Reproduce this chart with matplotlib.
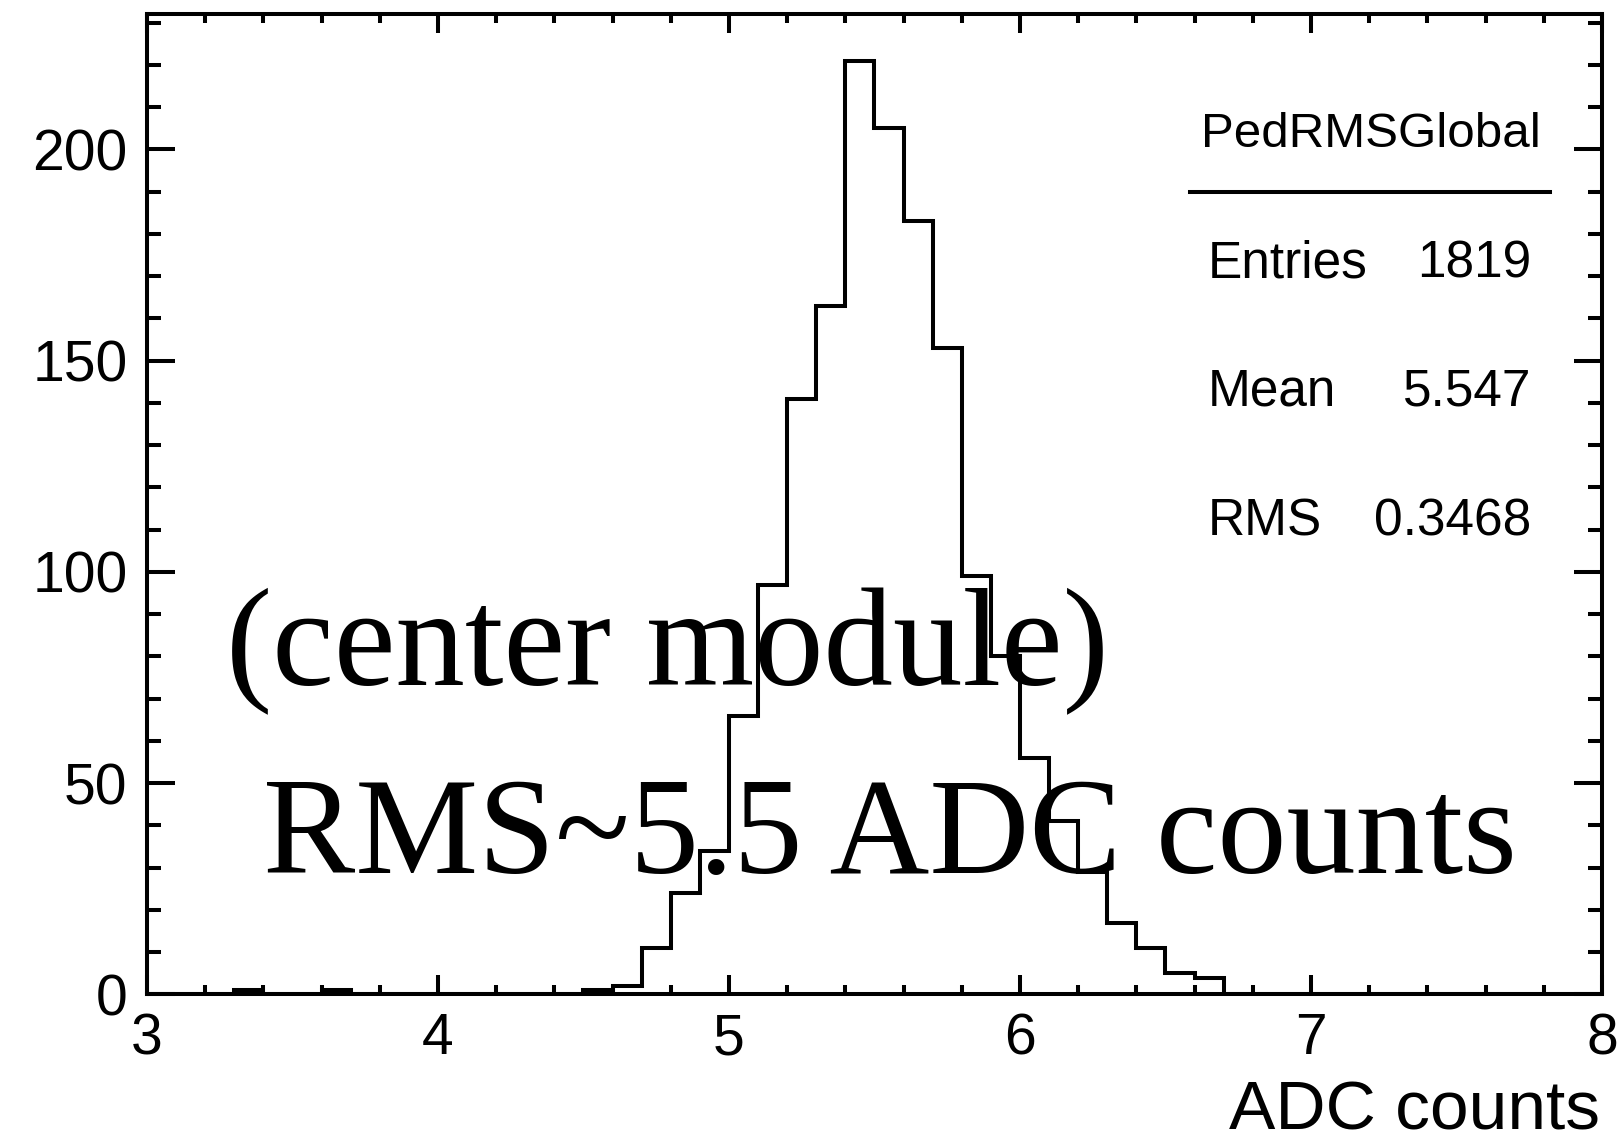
import numpy as np
import matplotlib
matplotlib.use("Agg")
import matplotlib.pyplot as plt
from matplotlib.ticker import MultipleLocator

# Pedestal RMS per channel, 0.1 ADC bins from 3 to 8
bin_lo = 3.0
bin_hi = 8.0
n_bins = 50
counts = [0, 0, 0, 1, 0, 0, 1, 0, 0, 0,
          0, 0, 0, 0, 0, 1, 2, 11, 24, 34,
          66, 97, 141, 163, 221, 205, 183, 153, 99, 80,
          56, 41, 29, 17, 11, 5, 4, 0, 0, 0,
          0, 0, 0, 0, 0, 0, 0, 0, 0, 0]

hist_name = "PedRMSGlobal"
stat_labels = ["Entries", "Mean", "RMS"]
stat_values = ["1819", "5.547", "0.3468"]
x_title = "ADC counts"
note_lines = ["(center module)", "RMS~5.5 ADC counts"]

W, H, DPI = 1624, 1141, 100
SANS = ["Liberation Sans", "DejaVu Sans"]
SERIF = ["Liberation Serif", "DejaVu Serif"]
plt.rcParams["font.family"] = SANS


def fpos(px, py):
    """Pixel position (from top-left) to figure fraction."""
    return px / W, 1 - py / H


fig = plt.figure(figsize=(W / DPI, H / DPI), dpi=DPI)
ax = fig.add_axes([147 / W, 1 - 994.4 / H, (1602 - 147) / W, (994.4 - 14) / H])

edges = np.linspace(bin_lo, bin_hi, n_bins + 1)
ax.stairs(counts, edges, color="black", linewidth=2.9, baseline=0)

ymax = max(counts) * 1.05
ax.set_xlim(bin_lo, bin_hi)
ax.set_ylim(0, ymax)

for s in ax.spines.values():
    s.set_linewidth(2.9)

ax.xaxis.set_major_locator(MultipleLocator(1))
ax.xaxis.set_minor_locator(MultipleLocator(0.2))
ax.yaxis.set_major_locator(MultipleLocator(50))
ax.yaxis.set_minor_locator(MultipleLocator(10))

ax.tick_params(axis="both", which="both", direction="in", width=2.9,
               top=True, right=True)
ax.tick_params(axis="x", which="major", length=13.5, pad=13, labelsize=41)
ax.tick_params(axis="x", which="minor", length=6.5)
ax.tick_params(axis="y", which="major", length=20.5, pad=14, labelsize=41)
ax.tick_params(axis="y", which="minor", length=10)

ax.set_xlabel(x_title, fontsize=50, ha="right", va="baseline")
ax.xaxis.set_label_coords((1600 - 147) / 1455, (994.4 - 1129) / 980.4)

# Large annotations in serif type
ax.text(3.27, 73.3, note_lines[0], family=SERIF, fontsize=100,
        ha="left", va="baseline", color="black")
ax.text(3.40, 28.8, note_lines[1], family=SERIF, fontsize=99.5,
        ha="left", va="baseline", color="black")

# Statistics panel
fig.text(*fpos(1371, 147), hist_name, fontsize=35.5, ha="center", va="baseline")
fig.add_artist(plt.Line2D([1190 / W, 1550 / W], [1 - 192 / H, 1 - 192 / H],
                          color="black", linewidth=2.9,
                          transform=fig.transFigure))
for lab, val, yb in zip(stat_labels, stat_values, [277, 405, 535]):
    fig.text(*fpos(1208, yb), lab, fontsize=37, ha="left", va="baseline")
    fig.text(*fpos(1531, yb), val, fontsize=37, ha="right", va="baseline")

fig.savefig("out.png", dpi=DPI)
